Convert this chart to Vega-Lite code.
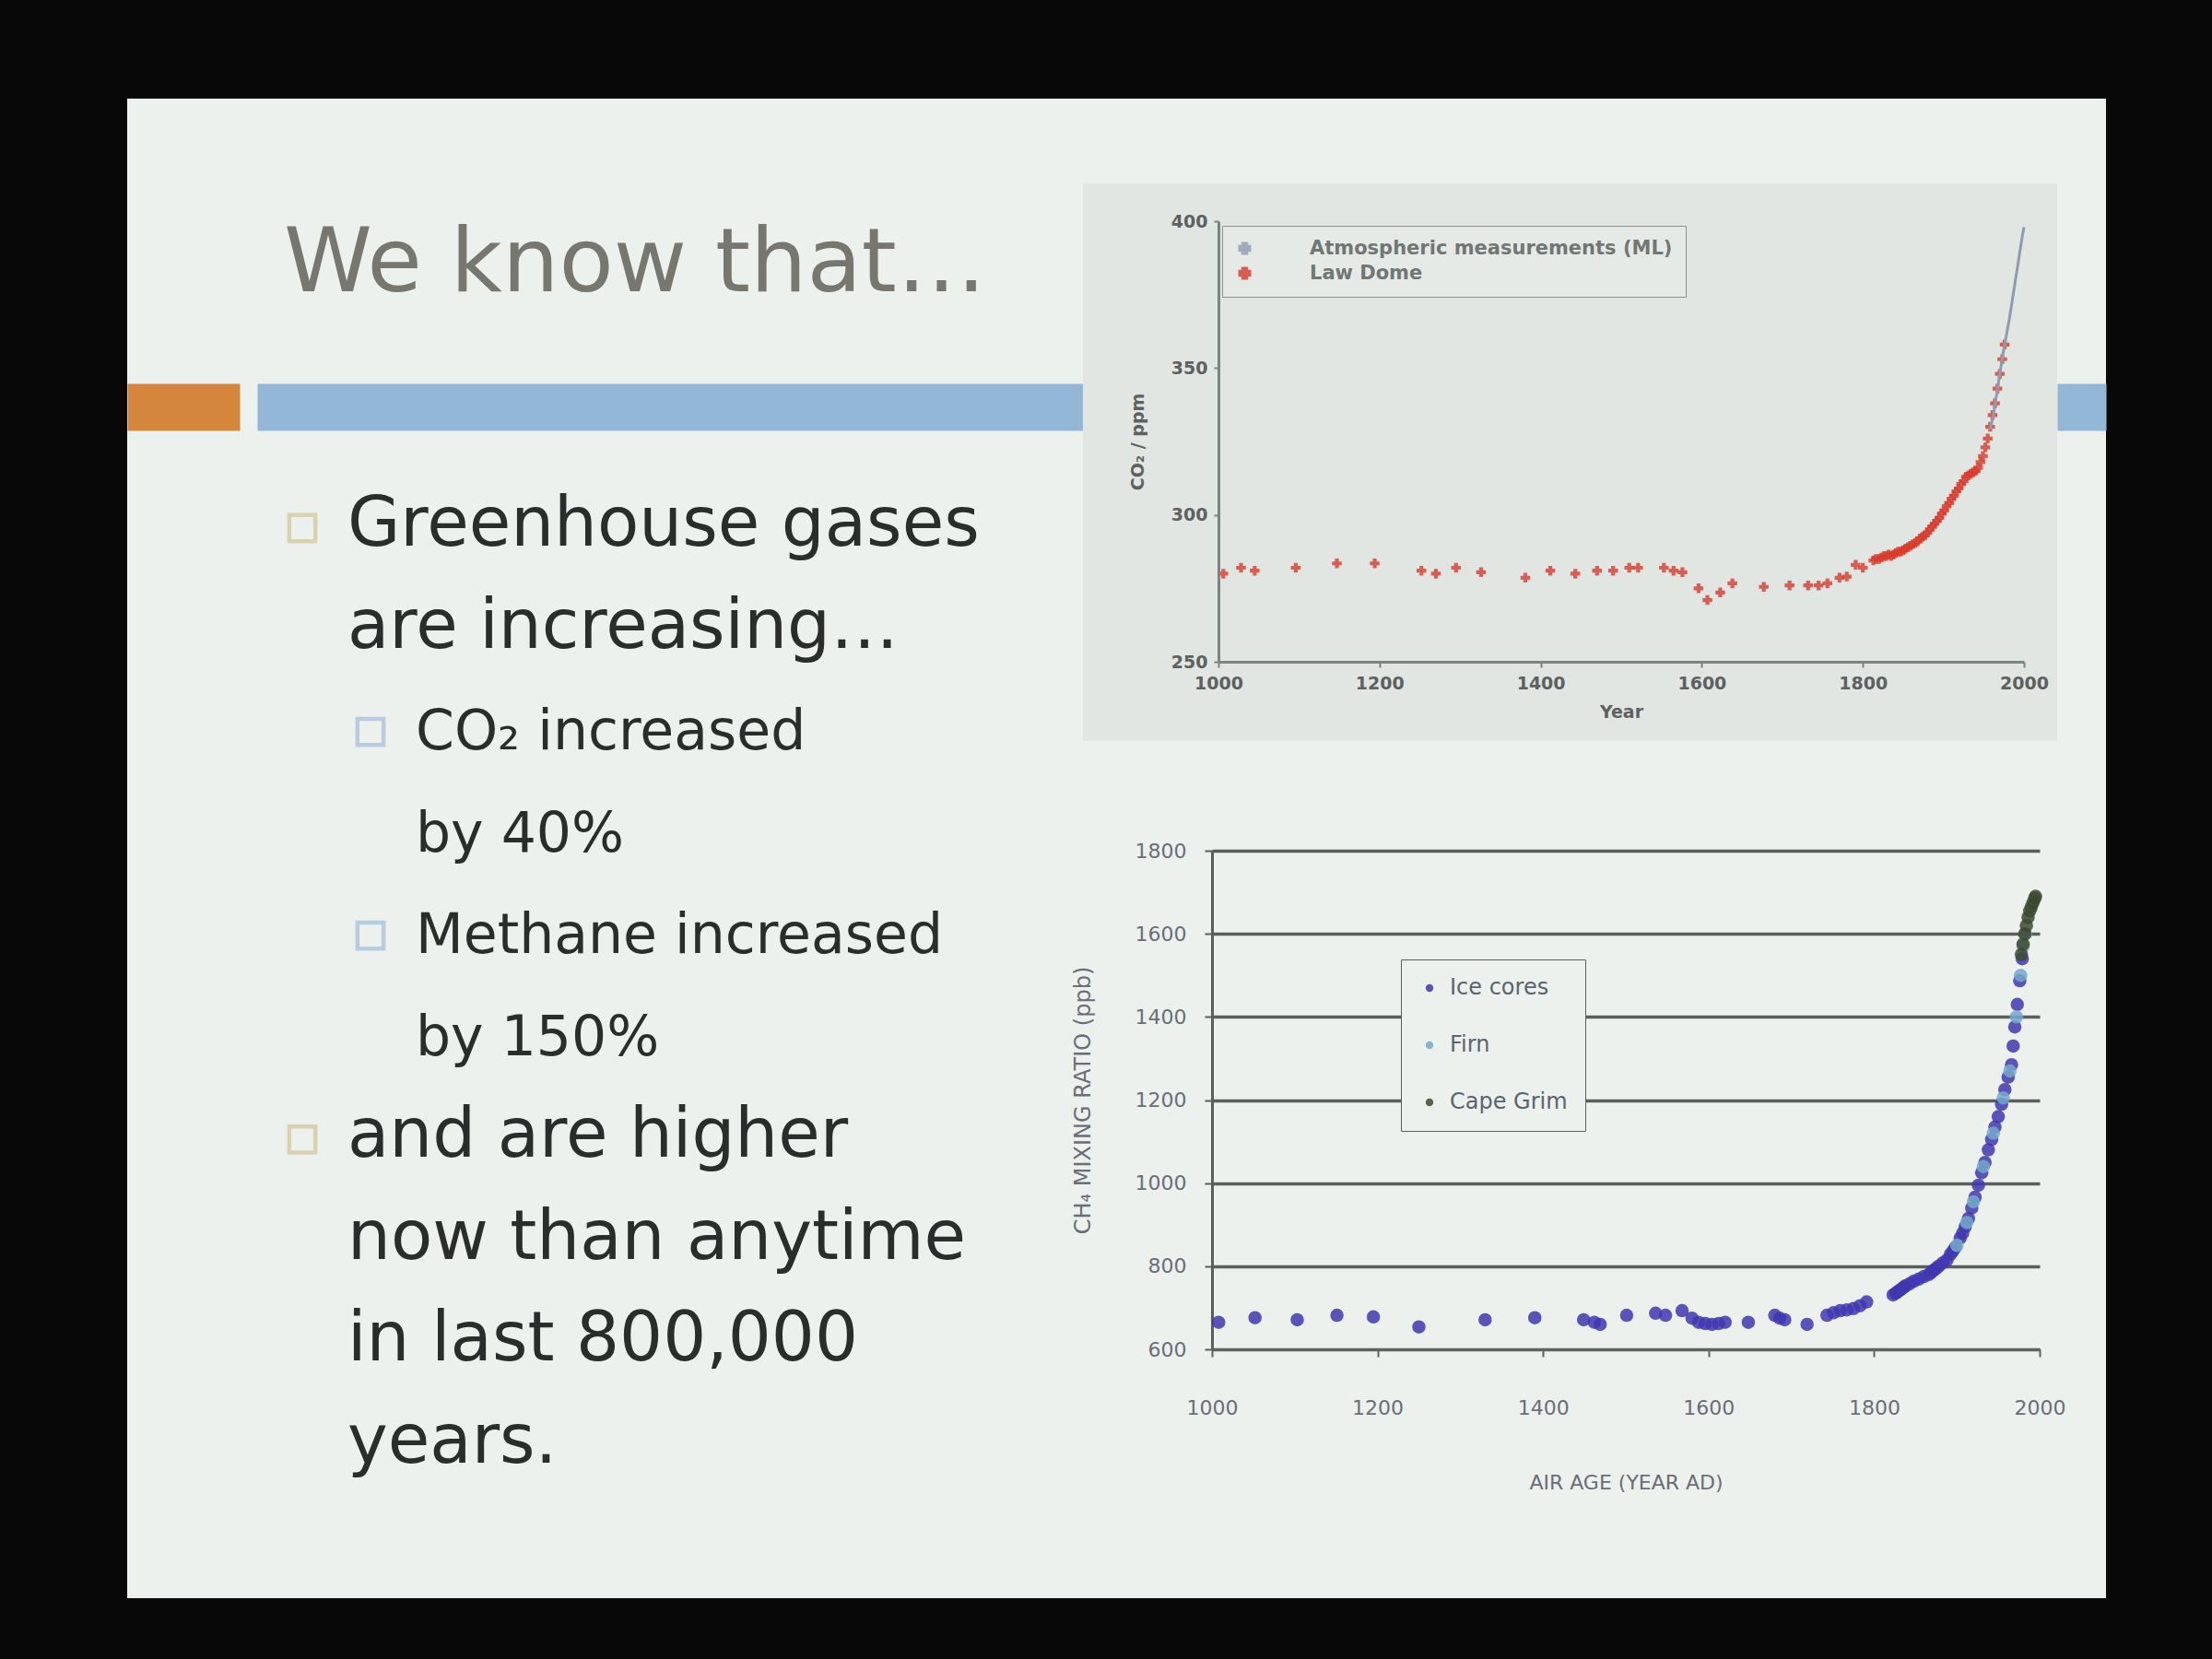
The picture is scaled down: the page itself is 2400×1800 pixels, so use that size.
{
  "$schema": "https://vega.github.io/schema/vega-lite/v6.json",
  "width": 2147,
  "height": 1627,
  "autosize": {"type": "none"},
  "padding": {"left": 138, "top": 107, "right": 115, "bottom": 66},
  "background": "#080808",
  "title": {"text": "We know that…", "anchor": "start", "frame": "group", "orient": "top", "offset": -306, "dx": 170, "baseline": "alphabetic", "font": "DejaVu Sans", "fontSize": 97, "fontWeight": "normal", "color": "#77776f"},
  "config": {"view": {"fill": "#edf1ee", "stroke": null}, "font": "DejaVu Sans"},
  "resolve": {
    "scale": {"x": "independent", "y": "independent", "color": "independent", "shape": "independent", "size": "independent"},
    "axis": {"x": "independent", "y": "independent"},
    "legend": {"color": "independent"}
  },
  "layer": [
    {
      "data": {"values": [{"part": "header band"}]},
      "mark": {"type": "point", "opacity": 0},
      "encoding": {
        "x": {"field": "part", "type": "nominal", "scale": {"type": "point", "range": [141, 2147]},
          "axis": {"orient": "top", "offset": -334.5, "domainColor": "#93b7d7", "domainWidth": 51, "domainCap": "butt", "domainDash": [896, 1057, 53], "ticks": false, "labels": false, "title": null, "grid": false}},
        "y": {"field": "part", "type": "nominal", "scale": {"type": "point", "range": [309, 360]},
          "axis": {"orient": "left", "offset": -61, "domainColor": "#d4873c", "domainWidth": 122, "domainCap": "butt", "ticks": false, "labels": false, "title": null, "grid": false}}
      }
    },
    {
      "data": {"values": [
        {"line": 1, "level": 1, "bullet": true, "text": "Greenhouse gases"},
        {"line": 2, "level": 1, "bullet": false, "text": "are increasing…"},
        {"line": 3, "level": 2, "bullet": true, "text": "CO₂ increased"},
        {"line": 4, "level": 2, "bullet": false, "text": "by 40%"},
        {"line": 5, "level": 2, "bullet": true, "text": "Methane increased"},
        {"line": 6, "level": 2, "bullet": false, "text": "by 150%"},
        {"line": 7, "level": 1, "bullet": true, "text": "and are higher"},
        {"line": 8, "level": 1, "bullet": false, "text": "now than anytime"},
        {"line": 9, "level": 1, "bullet": false, "text": "in last 800,000"},
        {"line": 10, "level": 1, "bullet": false, "text": "years."}
      ]},
      "encoding": {
        "x": {"field": "level", "type": "ordinal", "scale": {"type": "point", "domain": [1, 2], "range": [239, 313], "padding": 0}, "axis": null},
        "y": {"field": "line", "type": "ordinal", "scale": {"type": "point", "domain": [1, 2, 3, 4, 5, 6, 7, 8, 9, 10], "range": [485, 1480], "padding": 0}, "axis": null}
      },
      "layer": [
        {
          "transform": [{"filter": "datum.bullet"}],
          "mark": {"type": "point", "shape": "square", "filled": false, "size": 800, "strokeWidth": 4.5, "xOffset": -49, "yOffset": -19},
          "encoding": {"color": {"field": "level", "type": "ordinal", "scale": {"domain": [1, 2], "range": ["#d3c694", "#9fbfda"]}, "legend": null}}
        },
        {
          "transform": [{"filter": "datum.level === 1"}],
          "mark": {"type": "text", "align": "left", "baseline": "alphabetic", "font": "DejaVu Sans", "fontSize": 74, "color": "#2b2d2c"},
          "encoding": {"text": {"field": "text"}}
        },
        {
          "transform": [{"filter": "datum.level === 2"}],
          "mark": {"type": "text", "align": "left", "baseline": "alphabetic", "font": "DejaVu Sans", "fontSize": 60, "color": "#2b2d2c"},
          "encoding": {"text": {"field": "text"}}
        }
      ]
    },
    {
      "data": {"values": [{"panel": "CO₂ figure"}]},
      "mark": {"type": "rect", "fill": "#e1e6e3"},
      "encoding": {
        "x": {"field": "panel", "type": "nominal", "scale": {"type": "band", "range": [1037, 2094], "paddingInner": 0, "paddingOuter": 0}, "axis": null},
        "y": {"field": "panel", "type": "nominal", "scale": {"type": "band", "range": [92, 697], "paddingInner": 0, "paddingOuter": 0}, "axis": null}
      }
    },
    {
      "encoding": {
        "x": {"field": "year", "type": "quantitative", "scale": {"domain": [1000, 2000], "range": [1184, 2058], "nice": false, "zero": false},
          "axis": {"orient": "bottom", "offset": -1016, "zindex": 1, "values": [1000, 1200, 1400, 1600, 1800, 2000], "format": "d", "grid": false, "labelFlush": false,
            "domainColor": "#7d8381", "domainWidth": 3, "tickColor": "#7d8381", "tickSize": 6, "tickWidth": 2,
            "labelFont": "DejaVu Sans", "labelFontSize": 19, "labelFontWeight": "bold", "labelColor": "#5d6260", "labelPadding": 8,
            "title": "Year", "titleFont": "DejaVu Sans", "titleFontSize": 19, "titleFontWeight": "bold", "titleColor": "#5d6260", "titlePadding": 12}},
        "y": {"field": "ppm", "type": "quantitative", "scale": {"domain": [250, 400], "range": [611, 133], "nice": false, "zero": false},
          "axis": {"orient": "left", "offset": -1184, "zindex": 1, "values": [250, 300, 350, 400], "grid": false,
            "domainColor": "#7d8381", "domainWidth": 3, "tickColor": "#7d8381", "tickSize": 5, "tickWidth": 2,
            "labelFont": "DejaVu Sans", "labelFontSize": 19, "labelFontWeight": "bold", "labelColor": "#5d6260", "labelPadding": 7,
            "title": "CO₂ / ppm", "titleFont": "DejaVu Sans", "titleFontSize": 19, "titleFontWeight": "bold", "titleColor": "#5d6260", "titlePadding": 26}}
      },
      "layer": [
        {
          "data": {"values": [{}]},
          "mark": {"type": "rect", "fillOpacity": 0, "stroke": "#7d8381", "strokeWidth": 3},
          "encoding": {
            "x": {"datum": 1000, "type": "quantitative"}, "x2": {"datum": 2000},
            "y": {"datum": 250, "type": "quantitative"}, "y2": {"datum": 400}
          }
        },
        {
          "data": {"values": [
            {"year": 1006, "ppm": 280}, {"year": 1028, "ppm": 282}, {"year": 1045, "ppm": 281}, {"year": 1096, "ppm": 282},
            {"year": 1147, "ppm": 283.5}, {"year": 1194, "ppm": 283.5}, {"year": 1252, "ppm": 281}, {"year": 1270, "ppm": 280},
            {"year": 1295, "ppm": 282}, {"year": 1326, "ppm": 280.5}, {"year": 1381, "ppm": 278.6}, {"year": 1412, "ppm": 281},
            {"year": 1443, "ppm": 280}, {"year": 1470, "ppm": 281}, {"year": 1490, "ppm": 281}, {"year": 1510, "ppm": 282},
            {"year": 1521, "ppm": 282}, {"year": 1553, "ppm": 282}, {"year": 1565, "ppm": 281}, {"year": 1576, "ppm": 280.5},
            {"year": 1596, "ppm": 275}, {"year": 1607, "ppm": 271}, {"year": 1623, "ppm": 273.6}, {"year": 1638, "ppm": 276.7},
            {"year": 1677, "ppm": 275.5}, {"year": 1709, "ppm": 276}, {"year": 1732, "ppm": 276}, {"year": 1745, "ppm": 276},
            {"year": 1756, "ppm": 276.7}, {"year": 1771, "ppm": 278.6}, {"year": 1780, "ppm": 279}, {"year": 1791, "ppm": 283},
            {"year": 1800, "ppm": 282}, {"year": 1813, "ppm": 284.5}, {"year": 1816, "ppm": 285}, {"year": 1820, "ppm": 285},
            {"year": 1823, "ppm": 285.5}, {"year": 1826, "ppm": 286}, {"year": 1829, "ppm": 286}, {"year": 1832, "ppm": 286.5},
            {"year": 1835, "ppm": 286}, {"year": 1838, "ppm": 286.5}, {"year": 1841, "ppm": 287}, {"year": 1844, "ppm": 287.5},
            {"year": 1847, "ppm": 287.5}, {"year": 1850, "ppm": 288}, {"year": 1853, "ppm": 288.5}, {"year": 1856, "ppm": 289},
            {"year": 1859, "ppm": 289.5}, {"year": 1862, "ppm": 290}, {"year": 1865, "ppm": 290.5}, {"year": 1868, "ppm": 291},
            {"year": 1871, "ppm": 292}, {"year": 1874, "ppm": 292.5}, {"year": 1877, "ppm": 293}, {"year": 1880, "ppm": 294},
            {"year": 1883, "ppm": 295}, {"year": 1886, "ppm": 296}, {"year": 1889, "ppm": 297}, {"year": 1892, "ppm": 298},
            {"year": 1895, "ppm": 299}, {"year": 1898, "ppm": 300.5}, {"year": 1901, "ppm": 301.5}, {"year": 1904, "ppm": 303},
            {"year": 1907, "ppm": 304}, {"year": 1910, "ppm": 305.5}, {"year": 1913, "ppm": 306.5}, {"year": 1916, "ppm": 308},
            {"year": 1919, "ppm": 309}, {"year": 1922, "ppm": 310.5}, {"year": 1925, "ppm": 311.5}, {"year": 1928, "ppm": 313},
            {"year": 1931, "ppm": 313.5}, {"year": 1934, "ppm": 314}, {"year": 1937, "ppm": 314.5}, {"year": 1940, "ppm": 315},
            {"year": 1943, "ppm": 316}, {"year": 1946, "ppm": 318}, {"year": 1949, "ppm": 320}, {"year": 1952, "ppm": 323},
            {"year": 1955, "ppm": 326}, {"year": 1958, "ppm": 330}, {"year": 1961, "ppm": 334}, {"year": 1964, "ppm": 338},
            {"year": 1967, "ppm": 343}, {"year": 1970, "ppm": 348}, {"year": 1973, "ppm": 353}, {"year": 1976, "ppm": 358}
          ]},
          "transform": [{"calculate": "'Law Dome'", "as": "series"}],
          "mark": {"type": "point", "shape": "cross", "filled": true, "size": 110, "opacity": 0.8},
          "encoding": {
            "color": {"field": "series", "type": "nominal",
              "scale": {"domain": ["Atmospheric measurements (ML)", "Law Dome"], "range": ["#8e9bb3", "#d93b2b"]},
              "legend": {"orient": "none", "legendX": 1188, "legendY": 138, "title": null, "direction": "vertical",
                "strokeColor": "#8d918f", "fillColor": "#e6eae7", "padding": 14, "labelFont": "DejaVu Sans", "labelFontSize": 21, "labelFontWeight": "bold",
                "labelColor": "#727675", "labelLimit": 600, "rowPadding": 4, "symbolSize": 120, "symbolStrokeWidth": 3, "labelOffset": 60}}
          }
        },
        {
          "data": {"values": [
            {"year": 1958, "ppm": 329}, {"year": 1962, "ppm": 334}, {"year": 1966, "ppm": 341}, {"year": 1970, "ppm": 348},
            {"year": 1974, "ppm": 355}, {"year": 1978, "ppm": 361}, {"year": 1982, "ppm": 367}, {"year": 1986, "ppm": 374},
            {"year": 1990, "ppm": 381}, {"year": 1994, "ppm": 388}, {"year": 1998, "ppm": 395}, {"year": 2000, "ppm": 398}
          ]},
          "transform": [{"calculate": "'Atmospheric measurements (ML)'", "as": "series"}],
          "mark": {"type": "line", "strokeWidth": 3},
          "encoding": {"color": {"field": "series", "type": "nominal"}}
        }
      ]
    },
    {
      "data": {"values": [
        {"series": "Ice cores", "year": 1008, "ppb": 665}, {"series": "Ice cores", "year": 1052, "ppb": 676},
        {"series": "Ice cores", "year": 1103, "ppb": 671}, {"series": "Ice cores", "year": 1151, "ppb": 682},
        {"series": "Ice cores", "year": 1195, "ppb": 678}, {"series": "Ice cores", "year": 1250, "ppb": 654},
        {"series": "Ice cores", "year": 1330, "ppb": 671}, {"series": "Ice cores", "year": 1390, "ppb": 676},
        {"series": "Ice cores", "year": 1449, "ppb": 671}, {"series": "Ice cores", "year": 1462, "ppb": 665},
        {"series": "Ice cores", "year": 1469, "ppb": 660}, {"series": "Ice cores", "year": 1501, "ppb": 682},
        {"series": "Ice cores", "year": 1536, "ppb": 687}, {"series": "Ice cores", "year": 1548, "ppb": 682},
        {"series": "Ice cores", "year": 1568, "ppb": 693}, {"series": "Ice cores", "year": 1580, "ppb": 675},
        {"series": "Ice cores", "year": 1588, "ppb": 665}, {"series": "Ice cores", "year": 1596, "ppb": 662},
        {"series": "Ice cores", "year": 1604, "ppb": 660}, {"series": "Ice cores", "year": 1612, "ppb": 662},
        {"series": "Ice cores", "year": 1620, "ppb": 665}, {"series": "Ice cores", "year": 1648, "ppb": 665},
        {"series": "Ice cores", "year": 1680, "ppb": 682}, {"series": "Ice cores", "year": 1686, "ppb": 675},
        {"series": "Ice cores", "year": 1692, "ppb": 671}, {"series": "Ice cores", "year": 1719, "ppb": 660},
        {"series": "Ice cores", "year": 1743, "ppb": 682}, {"series": "Ice cores", "year": 1751, "ppb": 688},
        {"series": "Ice cores", "year": 1759, "ppb": 693}, {"series": "Ice cores", "year": 1767, "ppb": 695},
        {"series": "Ice cores", "year": 1775, "ppb": 698}, {"series": "Ice cores", "year": 1783, "ppb": 705},
        {"series": "Ice cores", "year": 1791, "ppb": 714}, {"series": "Ice cores", "year": 1823, "ppb": 731},
        {"series": "Ice cores", "year": 1826, "ppb": 735}, {"series": "Ice cores", "year": 1828, "ppb": 738},
        {"series": "Ice cores", "year": 1831, "ppb": 742}, {"series": "Ice cores", "year": 1833, "ppb": 745},
        {"series": "Ice cores", "year": 1836, "ppb": 750}, {"series": "Ice cores", "year": 1838, "ppb": 753},
        {"series": "Ice cores", "year": 1843, "ppb": 758}, {"series": "Ice cores", "year": 1848, "ppb": 764},
        {"series": "Ice cores", "year": 1854, "ppb": 769}, {"series": "Ice cores", "year": 1860, "ppb": 775},
        {"series": "Ice cores", "year": 1866, "ppb": 780}, {"series": "Ice cores", "year": 1869, "ppb": 785},
        {"series": "Ice cores", "year": 1872, "ppb": 790}, {"series": "Ice cores", "year": 1875, "ppb": 795},
        {"series": "Ice cores", "year": 1878, "ppb": 800}, {"series": "Ice cores", "year": 1883, "ppb": 808},
        {"series": "Ice cores", "year": 1888, "ppb": 815}, {"series": "Ice cores", "year": 1892, "ppb": 828},
        {"series": "Ice cores", "year": 1895, "ppb": 836}, {"series": "Ice cores", "year": 1898, "ppb": 845},
        {"series": "Ice cores", "year": 1904, "ppb": 868}, {"series": "Ice cores", "year": 1907, "ppb": 880},
        {"series": "Ice cores", "year": 1910, "ppb": 895}, {"series": "Ice cores", "year": 1914, "ppb": 915},
        {"series": "Ice cores", "year": 1918, "ppb": 940}, {"series": "Ice cores", "year": 1922, "ppb": 966},
        {"series": "Ice cores", "year": 1926, "ppb": 995}, {"series": "Ice cores", "year": 1930, "ppb": 1025},
        {"series": "Ice cores", "year": 1934, "ppb": 1050}, {"series": "Ice cores", "year": 1938, "ppb": 1080},
        {"series": "Ice cores", "year": 1942, "ppb": 1105}, {"series": "Ice cores", "year": 1946, "ppb": 1135},
        {"series": "Ice cores", "year": 1950, "ppb": 1160}, {"series": "Ice cores", "year": 1954, "ppb": 1190},
        {"series": "Ice cores", "year": 1958, "ppb": 1225}, {"series": "Ice cores", "year": 1962, "ppb": 1255},
        {"series": "Ice cores", "year": 1966, "ppb": 1285}, {"series": "Ice cores", "year": 1968, "ppb": 1330},
        {"series": "Ice cores", "year": 1970, "ppb": 1376}, {"series": "Ice cores", "year": 1973, "ppb": 1430},
        {"series": "Ice cores", "year": 1976, "ppb": 1487}, {"series": "Ice cores", "year": 1979, "ppb": 1540},
        {"series": "Firn", "year": 1900, "ppb": 850}, {"series": "Firn", "year": 1912, "ppb": 905},
        {"series": "Firn", "year": 1920, "ppb": 955}, {"series": "Firn", "year": 1932, "ppb": 1040},
        {"series": "Firn", "year": 1944, "ppb": 1120}, {"series": "Firn", "year": 1956, "ppb": 1205},
        {"series": "Firn", "year": 1964, "ppb": 1270}, {"series": "Firn", "year": 1972, "ppb": 1400},
        {"series": "Firn", "year": 1977, "ppb": 1500}, {"series": "Firn", "year": 1980, "ppb": 1570},
        {"series": "Firn", "year": 1983, "ppb": 1600},
        {"series": "Cape Grim", "year": 1978, "ppb": 1550}, {"series": "Cape Grim", "year": 1980, "ppb": 1575},
        {"series": "Cape Grim", "year": 1982, "ppb": 1600}, {"series": "Cape Grim", "year": 1984, "ppb": 1620},
        {"series": "Cape Grim", "year": 1986, "ppb": 1640}, {"series": "Cape Grim", "year": 1988, "ppb": 1655},
        {"series": "Cape Grim", "year": 1990, "ppb": 1665}, {"series": "Cape Grim", "year": 1992, "ppb": 1675},
        {"series": "Cape Grim", "year": 1994, "ppb": 1685}, {"series": "Cape Grim", "year": 1995, "ppb": 1690}
      ]},
      "encoding": {
        "x": {"field": "year", "type": "quantitative", "scale": {"domain": [1000, 2000], "range": [1177, 2075], "nice": false, "zero": false},
          "axis": {"orient": "bottom", "offset": -270, "values": [1000, 1200, 1400, 1600, 1800, 2000], "format": "d", "grid": false, "labelFlush": false,
            "domainColor": "#5e6361", "domainWidth": 3, "tickColor": "#5e6361", "tickSize": 8, "tickWidth": 2,
            "labelFont": "DejaVu Sans", "labelFontSize": 22, "labelColor": "#6a6e78", "labelPadding": 45,
            "title": "AIR AGE (YEAR AD)", "titleFont": "DejaVu Sans", "titleFontSize": 22, "titleFontWeight": "normal", "titleColor": "#6a6e78", "titlePadding": 60}},
        "y": {"field": "ppb", "type": "quantitative", "scale": {"domain": [600, 1800], "range": [1357, 816], "nice": false, "zero": false},
          "axis": {"orient": "left", "offset": -1177, "values": [600, 800, 1000, 1200, 1400, 1600, 1800], "format": "d", "grid": true, "gridColor": "#5a5f5d", "gridWidth": 3.5, "gridOpacity": 1,
            "domainColor": "#5a5f5d", "domainWidth": 3, "tickColor": "#5a5f5d", "tickSize": 8, "tickWidth": 2,
            "labelFont": "DejaVu Sans", "labelFontSize": 22, "labelColor": "#6a6e78", "labelPadding": 20,
            "title": "CH₄ MIXING RATIO (ppb)", "titleFont": "DejaVu Sans", "titleFontSize": 24, "titleFontWeight": "normal", "titleColor": "#6a6e78", "titlePadding": 44}}
      },
      "layer": [
        {
          "data": {"values": [{}]},
          "mark": {"type": "rect", "fillOpacity": 0, "stroke": "#5a5f5d", "strokeWidth": 3},
          "encoding": {
            "x": {"datum": 1000, "type": "quantitative"}, "x2": {"datum": 2000},
            "y": {"datum": 600, "type": "quantitative"}, "y2": {"datum": 1800}
          }
        },
        {
          "mark": {"type": "point", "filled": true, "size": 210, "opacity": 0.85},
          "encoding": {
            "color": {"field": "series", "type": "nominal",
              "scale": {"domain": ["Ice cores", "Firn", "Cape Grim"], "range": ["#4037b0", "#74a9cc", "#3c4a2e"]},
              "legend": {"orient": "none", "legendX": 1382, "legendY": 934, "title": null, "direction": "vertical",
                "strokeColor": "#5a5f5d", "fillColor": "#edf1ee", "padding": 19, "rowPadding": 38,
                "labelFont": "DejaVu Sans", "labelFontSize": 24, "labelColor": "#5a6370", "labelOffset": 10,
                "symbolSize": 70, "symbolType": "circle"}}
          }
        }
      ]
    }
  ]
}
